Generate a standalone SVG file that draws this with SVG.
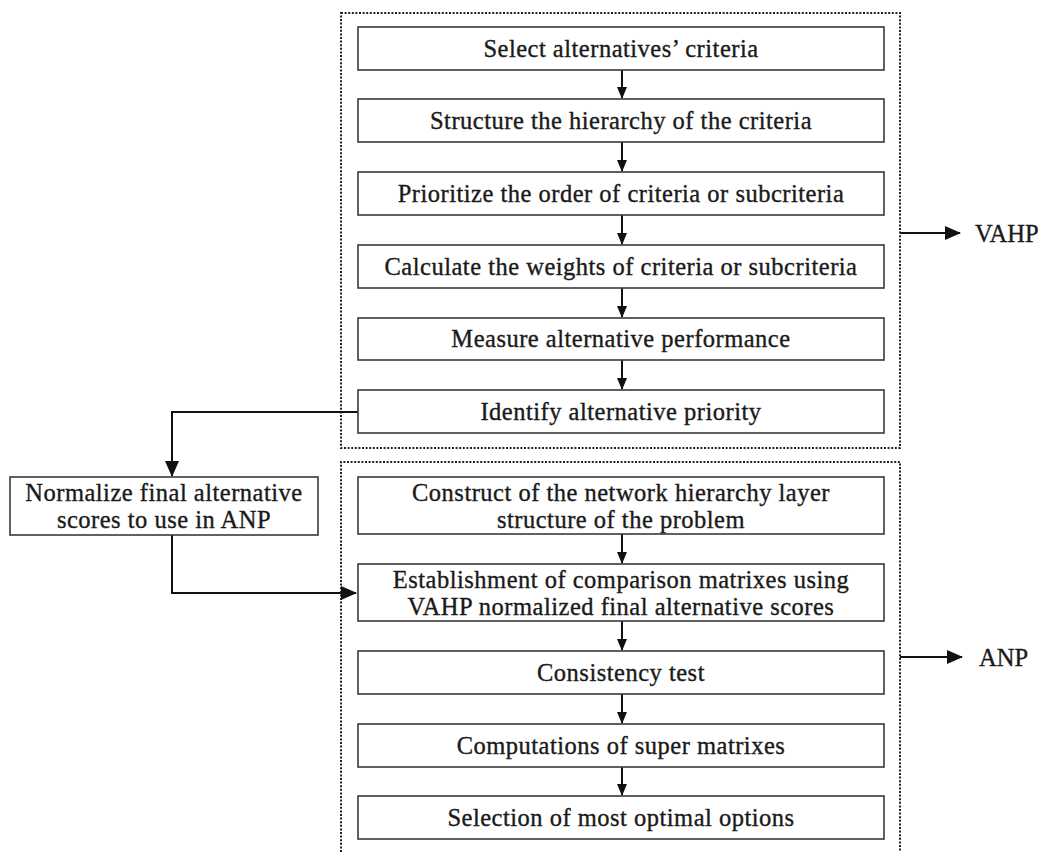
<svg xmlns="http://www.w3.org/2000/svg" width="1043" height="852" viewBox="0 0 1043 852">
  <style>
    .box { fill: #ffffff; stroke: #3a3a3a; stroke-width: 1.6; }
    .group { fill: none; stroke: #222; stroke-width: 2; stroke-dasharray: 2 1.6; }
    .lbl { font-family: "Liberation Serif", "Times New Roman", serif; font-size: 24.5px; letter-spacing: 0.5px; fill: #1a1a1a; stroke: #1a1a1a; stroke-width: 0.35; text-anchor: middle; }
    .side { font-family: "Liberation Serif", "Times New Roman", serif; font-size: 24.5px; fill: #1a1a1a; stroke: #1a1a1a; stroke-width: 0.35; }
    .edge { fill: none; stroke: #111; stroke-width: 2; }
  </style>
  <defs>
    <marker id="arr" markerWidth="12" markerHeight="10" refX="11" refY="5" orient="auto" markerUnits="userSpaceOnUse">
      <path d="M0,0 L12,5 L0,10 Z" fill="#111"/>
    </marker>
    <marker id="arrL" markerWidth="16" markerHeight="14" refX="15" refY="7" orient="auto" markerUnits="userSpaceOnUse">
      <path d="M0,0 L16,7 L0,14 Z" fill="#111"/>
    </marker>
  </defs>

  <rect width="1043" height="852" fill="#ffffff"/>

  <!-- process groups -->
  <g id="group-vahp">
    <rect class="group" x="341" y="13" width="559" height="435"/>
  </g>
  <g id="group-anp">
    <path class="group" d="M341,852 V462 H900 V852"/>
  </g>

  <!-- connectors -->
  <g id="connectors">
    <line class="edge" x1="622" y1="70" x2="622" y2="98" marker-end="url(#arr)"/>
    <line class="edge" x1="622" y1="142" x2="622" y2="171" marker-end="url(#arr)"/>
    <line class="edge" x1="622" y1="215" x2="622" y2="244" marker-end="url(#arr)"/>
    <line class="edge" x1="622" y1="288" x2="622" y2="317" marker-end="url(#arr)"/>
    <line class="edge" x1="622" y1="360" x2="622" y2="389" marker-end="url(#arr)"/>
    <line class="edge" x1="622" y1="534" x2="622" y2="563" marker-end="url(#arr)"/>
    <line class="edge" x1="622" y1="621" x2="622" y2="650" marker-end="url(#arr)"/>
    <line class="edge" x1="622" y1="694" x2="622" y2="723" marker-end="url(#arr)"/>
    <line class="edge" x1="622" y1="767" x2="622" y2="795" marker-end="url(#arr)"/>
    <path class="edge" d="M358,412 H172 V476" marker-end="url(#arrL)"/>
    <path class="edge" d="M172,535 V593 H356" marker-end="url(#arrL)"/>
    <line class="edge" x1="900" y1="233" x2="960" y2="233" marker-end="url(#arrL)"/>
    <line class="edge" x1="900" y1="657" x2="962" y2="657" marker-end="url(#arrL)"/>
  </g>

  <!-- VAHP steps -->
  <g id="n1"><rect class="box" x="358" y="27" width="526" height="43"/><text class="lbl" x="621" y="57">Select alternatives’ criteria</text></g>
  <g id="n2"><rect class="box" x="358" y="99" width="526" height="43"/><text class="lbl" x="621" y="129">Structure the hierarchy of the criteria</text></g>
  <g id="n3"><rect class="box" x="358" y="172" width="526" height="43"/><text class="lbl" x="621" y="202">Prioritize the order of criteria or subcriteria</text></g>
  <g id="n4"><rect class="box" x="358" y="245" width="526" height="43"/><text class="lbl" x="621" y="275">Calculate the weights of criteria or subcriteria</text></g>
  <g id="n5"><rect class="box" x="358" y="318" width="526" height="42"/><text class="lbl" x="621" y="347">Measure alternative performance</text></g>
  <g id="n6"><rect class="box" x="358" y="390" width="526" height="43"/><text class="lbl" x="621" y="420">Identify alternative priority</text></g>

  <!-- bridge step -->
  <g id="n-normalize"><rect class="box" x="10" y="477" width="308" height="58"/>
    <text class="lbl" x="164" y="501">Normalize final alternative</text>
    <text class="lbl" x="164" y="528">scores to use in ANP</text></g>

  <!-- ANP steps -->
  <g id="n7"><rect class="box" x="358" y="477" width="526" height="57"/>
    <text class="lbl" x="621" y="501">Construct of the network hierarchy layer</text>
    <text class="lbl" x="621" y="528">structure of the problem</text></g>
  <g id="n8"><rect class="box" x="358" y="564" width="526" height="57"/>
    <text class="lbl" x="621" y="588">Establishment of comparison matrixes using</text>
    <text class="lbl" x="621" y="615">VAHP normalized final alternative scores</text></g>
  <g id="n9"><rect class="box" x="358" y="651" width="526" height="43"/><text class="lbl" x="621" y="681">Consistency test</text></g>
  <g id="n10"><rect class="box" x="358" y="724" width="526" height="43"/><text class="lbl" x="621" y="754">Computations of super matrixes</text></g>
  <g id="n11"><rect class="box" x="358" y="796" width="526" height="43"/><text class="lbl" x="621" y="826">Selection of most optimal options</text></g>

  <!-- group labels -->
  <g id="label-vahp"><text class="side" x="975" y="242">VAHP</text></g>
  <g id="label-anp"><text class="side" x="979" y="666">ANP</text></g>
</svg>
